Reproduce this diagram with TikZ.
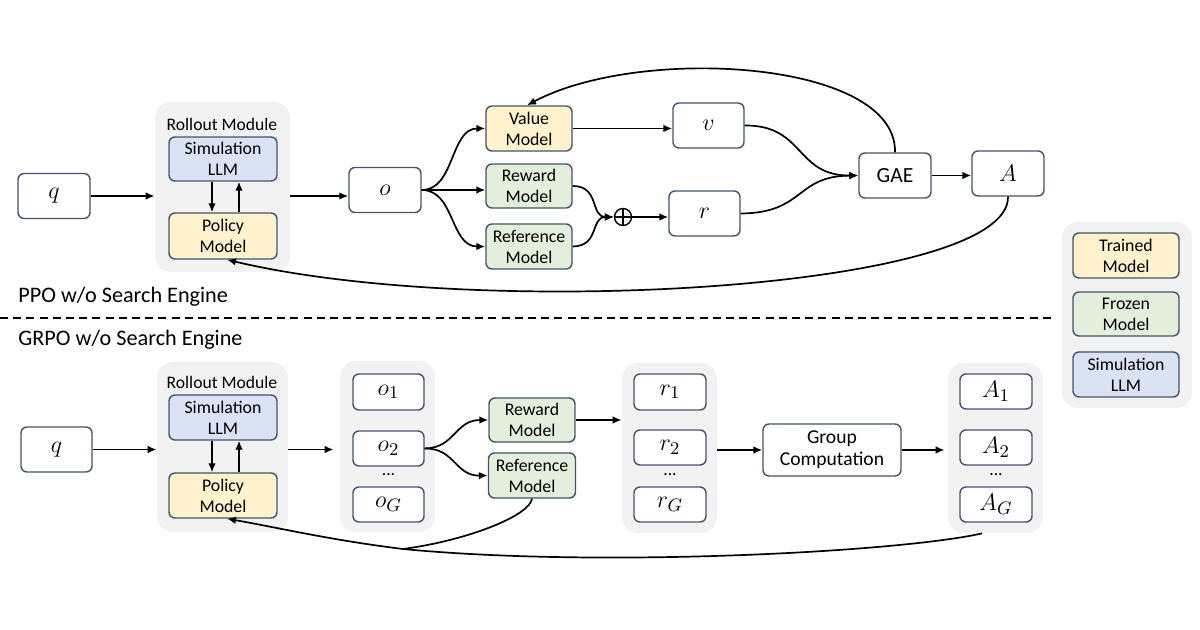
\documentclass[tikz,border=0pt]{standalone}
\usepackage{fontspec}
\setmainfont{Carlito}
\usetikzlibrary{arrows.meta}
\definecolor{bordc}{HTML}{44546A}
\definecolor{yelc}{HTML}{FFF2CC}
\definecolor{grnc}{HTML}{E2EFDA}
\definecolor{bluc}{HTML}{DAE3F3}
\definecolor{bgc}{HTML}{F2F2F2}
\begin{document}
\begin{tikzpicture}[x=0.5pt,y=-0.5pt,
 box/.style={draw=bordc, line width=0.7pt, rounded corners=3pt, fill=white, align=center, inner sep=0pt, font=\fontsize{8.9}{10.5}\selectfont},
 mbox/.style={box, font=\fontsize{13}{15}\selectfont},
 yel/.style={box, fill=yelc}, grn/.style={box, fill=grnc}, blu/.style={box, fill=bluc},
 bgbox/.style={fill=bgc, rounded corners=8pt, inner sep=0pt},
 arr/.style={-{Latex[length=4.5pt,width=3.8pt]}, line width=0.85pt},
 ln/.style={line width=0.85pt},
 title/.style={font=\fontsize{11.1}{13}\selectfont, anchor=west, inner sep=0pt},
 lbl/.style={font=\fontsize{8.8}{10}\selectfont, inner sep=0pt},
 dots/.style={font=\fontsize{8.8}{10}\selectfont, inner sep=0pt}
]
\useasboundingbox (0,0) rectangle (1200,630);

% ---------------- PPO (top) ----------------
\node[bgbox, minimum width=67.5pt, minimum height=85pt] (rollT) at (222.5,187) {};
\node[lbl] (rollTl) at (222,124) {Rollout Module};
\node[blu, minimum width=54pt, minimum height=22pt] (simT) at (223,159) {Simulation\\LLM};
\node[yel, minimum width=54pt, minimum height=23pt] (polT) at (223,236) {Policy\\Model};
\node[mbox, minimum width=36pt, minimum height=22.5pt] (qT) at (54,196) {$q$};
\node[mbox, minimum width=36pt, minimum height=22.5pt] (oT) at (385,190) {$o$};
\node[yel, minimum width=43pt, minimum height=22.5pt] (valT) at (529,128.5) {Value\\Model};
\node[grn, minimum width=43pt, minimum height=22pt] (rewT) at (529,186) {Reward\\Model};
\node[grn, minimum width=43pt, minimum height=22.5pt] (refT) at (529,246.5) {Reference\\Model};
\node[circle, draw, line width=0.7pt, minimum size=8.5pt, inner sep=0pt] (plus) at (623,217) {};
\draw[line width=0.7pt] (plus.north) -- (plus.south) (plus.west) -- (plus.east);
\node[mbox, minimum width=35.5pt, minimum height=22.5pt] (rT) at (704.5,213.5) {$r$};
\node[mbox, minimum width=35.5pt, minimum height=22.5pt] (vT) at (708.5,125.5) {$v$};
\node[box, minimum width=36pt, minimum height=22.5pt, font=\fontsize{10.8}{12}\selectfont] (gae) at (895,175.5) {GAE};
\node[mbox, minimum width=36pt, minimum height=22.5pt] (AT) at (1008,173.5) {$A$};

\draw[arr] (qT.east) -- (qT.east -| rollT.west);
\draw[arr] (rollT.east |- qT.east) -- (oT.west |- qT.east);
\draw[arr] ([xshift=-5.5pt]simT.south) -- ([xshift=-5.5pt]polT.north);
\draw[arr] ([xshift=8pt]polT.north) -- ([xshift=8pt]simT.south);
\draw[arr] (oT.east) .. controls (455,190) and (450,128.5) .. (valT.west);
\draw[arr] (oT.east) -- (oT.east -| rewT.west);
\draw[arr] (oT.east) .. controls (455,190) and (450,246.5) .. (refT.west);
\draw[arr] (rewT.east) .. controls (600,186) and (590,217) .. (plus.west);
\draw[arr] (refT.east) .. controls (600,246) and (590,217) .. (plus.west);
\draw[arr] (plus.east) -- (plus.east -| rT.west);
\draw[arr] (valT.east) -- (valT.east -| vT.west);
\draw[arr] (vT.east) .. controls (805,125) and (795,176) .. (gae.west);
\draw[arr] (rT.east) .. controls (805,213) and (795,176) .. (gae.west);
\draw[arr] (gae.east) -- (gae.east -| AT.west);
\draw[arr] (gae.north) .. controls (897,60) and (640,45) .. ([xshift=-1pt]valT.north);
\draw[arr] (AT.south) .. controls (1010,290) and (480,320) .. ([xshift=2pt]polT.south);

\node[title] (ppo) at (18,297) {PPO w/o Search Engine};
\coordinate (dl) at (0,318);
\coordinate (dr) at (1053,318);
\draw[line width=0.8pt, dash pattern=on 4pt off 2.6pt] (dl) -- (dr);
\node[title] (grpo) at (18,340) {GRPO w/o Search Engine};

% ---------------- Legend ----------------
\node[bgbox, minimum width=65pt, minimum height=93pt] (leg) at (1127,315) {};
\node[yel, minimum width=53pt, minimum height=22.5pt] (legT) at (1126,255.5) {Trained\\Model};
\node[grn, minimum width=53pt, minimum height=22pt] (legF) at (1126,314) {Frozen\\Model};
\node[blu, minimum width=53pt, minimum height=22.5pt] (legS) at (1126,374.5) {Simulation\\LLM};

% ---------------- GRPO (bottom) ----------------
\node[bgbox, minimum width=65.5pt, minimum height=85pt] (rollB) at (222.5,447) {};
\node[lbl] (rollBl) at (222,382) {Rollout Module};
\node[blu, minimum width=54pt, minimum height=22.5pt] (simB) at (223,417.5) {Simulation\\LLM};
\node[yel, minimum width=54pt, minimum height=22.5pt] (polB) at (223,495.5) {Policy\\Model};
\node[mbox, minimum width=35.5pt, minimum height=22.5pt] (qB) at (56.5,449.5) {$q$};

\node[bgbox, minimum width=47.5pt, minimum height=85.5pt] (oGbg) at (387.5,446.5) {};
\node[mbox, minimum width=35.5pt, minimum height=18pt] (o1) at (388.5,392) {$o_1$};
\node[mbox, minimum width=35.5pt, minimum height=17.5pt] (o2) at (388.5,448.5) {$o_2$};
\node[dots] (odots) at (388.5,475) {...};
\node[mbox, minimum width=35.5pt, minimum height=17.5pt] (oG) at (388.5,504.5) {$o_G$};

\node[grn, minimum width=43pt, minimum height=22pt] (rewB) at (532,420) {Reward\\Model};
\node[grn, minimum width=43.5pt, minimum height=22.5pt] (refB) at (532,475.5) {Reference\\Model};

\node[bgbox, minimum width=47.5pt, minimum height=85pt] (rGbg) at (669.5,448) {};
\node[mbox, minimum width=36pt, minimum height=18pt] (r1) at (670,392) {$r_1$};
\node[mbox, minimum width=36pt, minimum height=17.5pt] (r2) at (670,447.5) {$r_2$};
\node[dots] (rdots) at (670,475) {...};
\node[mbox, minimum width=36pt, minimum height=17.5pt] (rG) at (670,504.5) {$r_G$};

\node[box, minimum width=69pt, minimum height=26pt, font=\fontsize{9.8}{11}\selectfont] (gc) at (832,450) {Group\\Computation};

\node[bgbox, minimum width=47.5pt, minimum height=85pt] (AGbg) at (995.5,448) {};
\node[mbox, minimum width=36pt, minimum height=17.5pt] (A1) at (996,391.5) {$A_1$};
\node[mbox, minimum width=36pt, minimum height=17.5pt] (A2) at (996,447.5) {$A_2$};
\node[dots] (Adots) at (996,475) {...};
\node[mbox, minimum width=36pt, minimum height=17.5pt] (AG) at (996,504.5) {$A_G$};

\draw[arr] (qB.east) -- (qB.east -| rollB.west);
\draw[arr] (rollB.east |- qB.east) -- ([xshift=-3pt]oGbg.west |- qB.east);
\draw[arr] ([xshift=-5.5pt]simB.south) -- ([xshift=-5.5pt]polB.north);
\draw[arr] ([xshift=8pt]polB.north) -- ([xshift=8pt]simB.south);
\draw[arr] (o2.east) .. controls (455,448) and (455,420) .. (rewB.west);
\draw[arr] (o2.east) .. controls (455,448) and (455,476) .. (refB.west);
\draw[arr] (rewB.east) -- (rewB.east -| rGbg.west);
\draw[arr] (rGbg.east |- gc.west) -- (gc.west);
\draw[arr] (gc.east) -- ([xshift=-1.5pt]gc.east -| AGbg.west);
\coordinate (join) at (403,549);
\draw[ln] ([xshift=-6.75pt]AGbg.south) .. controls (900,552) and (600,568) .. (join);
\draw[ln] (refB.south) .. controls (530,515) and (470,540) .. (join);
\draw[arr] (join) .. controls (330,540) and (280,528) .. ([xshift=2pt]polB.south);
\end{tikzpicture}
\end{document}
